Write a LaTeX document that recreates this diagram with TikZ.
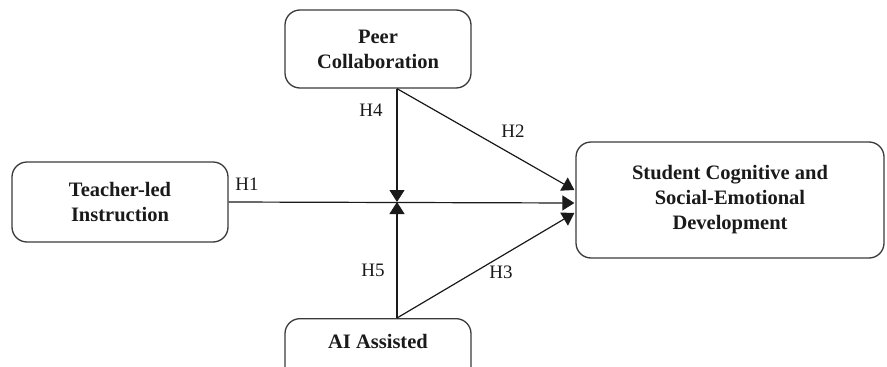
\documentclass[tikz,border=0pt]{standalone}
\usepackage{fontspec}
\setmainfont{Liberation Serif}
\usetikzlibrary{arrows.meta,calc}
\definecolor{ink}{HTML}{1A1A1A}
\definecolor{edge}{HTML}{3A3A3A}
\tikzset{
  box/.style={draw=edge, line width=1.3pt, rounded corners=15pt, inner sep=0pt,
              align=center, font=\fontsize{20.5}{25}\selectfont\bfseries, text=ink},
  lbl/.style={font=\fontsize{20.5}{25}\selectfont\bfseries, text=ink, inner sep=0pt},
  hyp/.style={font=\fontsize{19}{22}\selectfont, text=ink, inner sep=0pt},
  conn/.style={draw=ink, line width=1.2pt},
  arr/.style={conn, -{Triangle[length=12pt,width=15pt]}}
}
\begin{document}
\begin{tikzpicture}[x=1pt,y=-1pt]
\useasboundingbox (0,0) rectangle (887,367);
\clip (0,0) rectangle (887,367);
\node[box, minimum width=186pt, minimum height=78pt] (peer) at (378,49) {Peer\\Collaboration};
\node[box, minimum width=216pt, minimum height=80pt] (teacher) at (120,202) {Teacher-led\\Instruction};
\node[box, minimum width=308pt, minimum height=116pt] (student) at (730,200) {Student Cognitive and\\Social-Emotional\\Development};
\node[box, minimum width=186pt, minimum height=78pt, anchor=north] (ai) at (378,318) {};
\node[lbl] (aitext) at (378,341) {AI Assisted};

\coordinate (m) at (397,202);
\coordinate (t2) at ($(student.west)+(-1,-10)$);
\coordinate (t1) at ($(student.west)+(-1,3)$);
\coordinate (t3) at ($(student.west)+(-1,13)$);

\draw[arr] (peer.south -| m) -- (m);
\draw[arr] (ai.north -| m) -- (m);
\draw[arr] (teacher.east) -- (t1);
\draw[arr] (peer.south -| m) -- (t2);
\draw[arr] (ai.north -| m) -- (t3);

\node[hyp] (h1) at (247,184) {H1};
\node[hyp] (h2) at (513,131) {H2};
\node[hyp] (h3) at (501,272) {H3};
\node[hyp] (h4) at (371,110) {H4};
\node[hyp] (h5) at (373,270) {H5};
\end{tikzpicture}
\end{document}
